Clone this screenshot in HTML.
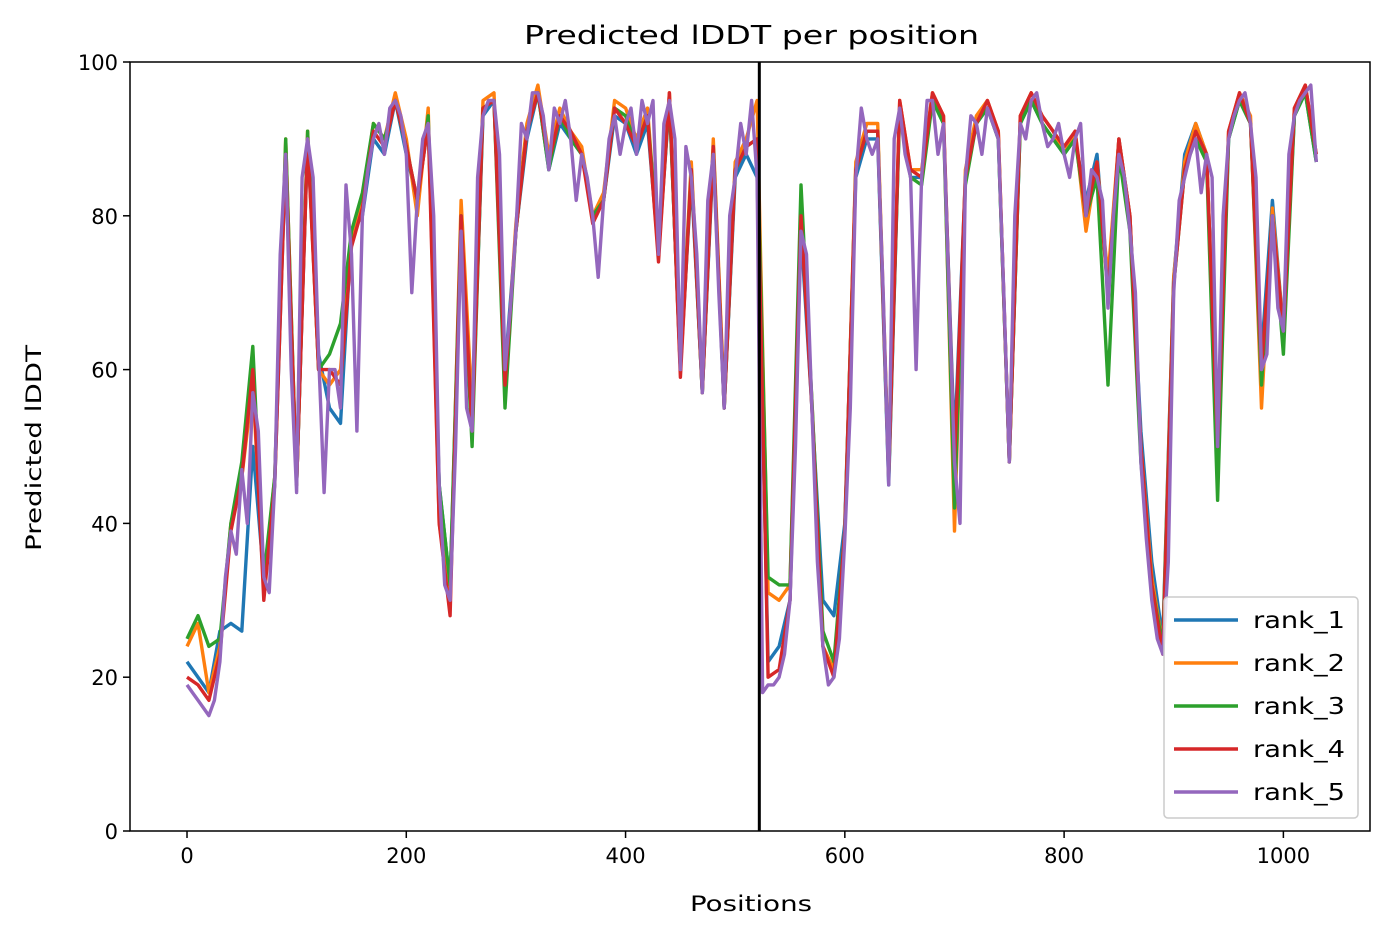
<!DOCTYPE html>
<html><head><meta charset="utf-8"><style>
body{margin:0;background:#fff;}
svg{font-family:"DejaVu Sans","Liberation Sans",sans-serif;}
</style></head><body>
<svg id="chart" width="1391" height="939" xmlns="http://www.w3.org/2000/svg">
<rect width="1391" height="939" fill="#fff"/>
<g id="plot"></g>
<text x="524" y="44" font-size="26" textLength="455" lengthAdjust="spacingAndGlyphs">Predicted lDDT per position</text>
<text x="690" y="911" font-size="21" textLength="122" lengthAdjust="spacingAndGlyphs">Positions</text>
<text x="0" y="0" font-size="21" textLength="206" lengthAdjust="spacingAndGlyphs" transform="translate(41 551) rotate(-90)">Predicted lDDT</text>
</svg>
<script>
const xTicks=[0,200,400,600,800,1000];
const yTicks=[0,20,40,60,80,100];
const seriesNames=["rank_1","rank_2","rank_3","rank_4","rank_5"];
const colors=["#1f77b4","#ff7f0e","#2ca02c","#d62728","#9467bd"];
const splitPosition=522;
const rank1=[22,20,18,26,27,26,50,33,45,88,45,90,62,55,53,78,80,90,88,95,88,82,92,45,32,78,52,93,95,60,78,90,96,86,92,90,88,80,82,93,92,88,92,75,95,60,85,57,88,55,85,88,85,22,24,30,78,55,30,28,40,85,90,90,45,94,85,85,95,92,50,85,92,94,90,48,92,95,92,90,88,90,82,88,70,90,80,52,35,25,72,88,92,88,50,90,95,92,62,82,65,93,96,87];
const rank2=[24,27,18,24,40,46,58,32,46,90,45,91,60,58,60,77,82,92,90,96,90,80,94,40,30,82,55,95,96,57,79,92,97,88,94,91,89,80,83,95,94,90,94,75,96,60,87,58,90,56,87,90,95,31,30,32,80,56,24,21,39,87,92,92,47,95,86,86,96,93,39,86,93,95,91,48,93,96,93,91,88,91,78,87,72,90,80,50,33,24,72,87,92,88,50,91,96,93,55,81,65,94,97,88];
const rank3=[25,28,24,25,40,48,63,33,46,90,45,91,60,62,66,78,83,92,90,95,89,82,93,45,32,80,50,94,95,55,78,91,96,86,93,90,88,80,82,94,93,89,93,76,95,60,86,57,89,55,86,89,90,33,32,32,84,56,26,22,39,86,91,91,46,94,85,84,95,92,42,84,92,94,90,48,92,95,92,90,88,90,80,85,58,88,78,48,32,24,71,86,90,87,43,90,95,92,58,80,62,93,96,87];
const rank4=[20,19,17,23,39,46,60,30,45,88,45,90,60,60,58,76,81,91,89,95,89,82,92,40,28,80,52,94,95,58,78,91,96,87,93,91,88,79,82,94,92,89,93,74,96,59,86,57,89,55,86,89,90,20,21,30,80,55,24,20,39,86,91,91,46,95,86,85,96,93,48,85,92,95,91,48,93,96,93,91,89,91,80,87,70,90,80,50,32,23,71,86,91,88,50,91,96,92,60,80,65,94,97,88];
const rank5=[19,18,17,16,15,17,22,33,39,36,47,40,57,52,33,31,45,75,88,60,44,85,90,85,62,44,60,60,55,84,75,52,80,86,90,92,88,94,95,93,88,70,82,90,92,80,45,32,30,50,78,55,52,85,93,95,95,88,60,68,78,92,90,96,96,93,86,94,92,95,90,82,88,85,80,72,82,90,93,88,92,94,88,95,92,95,75,92,95,90,60,89,85,75,57,82,88,70,55,80,85,92,88,95,85,18,19,19,20,23,30,50,78,75,55,35,24,19,20,25,38,55,85,94,90,88,90,70,45,90,94,88,85,60,85,95,95,88,92,70,48,40,85,93,92,88,94,92,90,70,48,80,92,90,95,96,92,89,90,92,88,85,90,92,80,86,85,82,68,80,88,85,78,70,48,38,30,25,23,35,70,82,85,88,90,83,88,85,50,80,90,93,95,96,92,85,60,62,80,68,65,88,93,95,96,97,87];
const series=[rank1,rank2,rank3,rank4];
const stepCoarse=10, stepFine=5;
const L=130,R=1370,T=62,B=831;
const xMin=-52,xMax=1079;
function xs(v){return L+(v-xMin)/(xMax-xMin)*(R-L);}
function ys(v){return B-v/100*(B-T);}
const NS="http://www.w3.org/2000/svg";
const g=document.getElementById('plot');
function mk(t,a){const e=document.createElementNS(NS,t);for(const k in a)e.setAttribute(k,a[k]);g.appendChild(e);return e;}
function pathFor(arr,step){let d="";arr.forEach((v,i)=>{let p=Math.min(i*step,1030);d+=(i?"L":"M")+xs(p).toFixed(1)+","+ys(v).toFixed(1);});return d;}
series.forEach((arr,i)=>{
  const p=mk('path',{d:pathFor(arr,stepCoarse),fill:'none',stroke:colors[i],'stroke-width':3.4,'stroke-linejoin':'round'});
  
  
});
const p5=mk('path',{d:pathFor(rank5,stepFine),fill:'none',stroke:colors[4],'stroke-width':3.4,'stroke-linejoin':'round'});


const vl=mk('line',{x1:xs(splitPosition),x2:xs(splitPosition),y1:T,y2:B,stroke:'#000','stroke-width':3});


const fr=mk('rect',{x:L,y:T,width:R-L,height:B-T,fill:'none',stroke:'#000','stroke-width':1.5});


xTicks.forEach(t=>{
  const tk=mk('line',{x1:xs(t),x2:xs(t),y1:B,y2:B+7,stroke:'#000','stroke-width':1.5});
  
  
  const tx=mk('text',{x:xs(t),y:B+32,'text-anchor':'middle','font-size':21});
  tx.textContent=t;
  
  
});
yTicks.forEach(t=>{
  const tk=mk('line',{x1:L-7,x2:L,y1:ys(t),y2:ys(t),stroke:'#000','stroke-width':1.5});
  
  
  const tx=mk('text',{x:L-12,y:ys(t)+8,'text-anchor':'end','font-size':21});
  tx.textContent=t;
  
  
});
const lg=mk('rect',{x:1164,y:597,width:194,height:221,rx:4,fill:'#fff','fill-opacity':0.8,stroke:'#ccc','stroke-width':1.5});


seriesNames.forEach((n,i)=>{
  const y=620+i*43;
  const ln=mk('line',{x1:1174,x2:1238,y1:y,y2:y,stroke:colors[i],'stroke-width':3.4});
  
  
  const tx=mk('text',{x:1253,y:y+8,'font-size':23,textLength:92,lengthAdjust:'spacingAndGlyphs'});
  tx.textContent=n;
  
  
});
</script>
</body></html>
